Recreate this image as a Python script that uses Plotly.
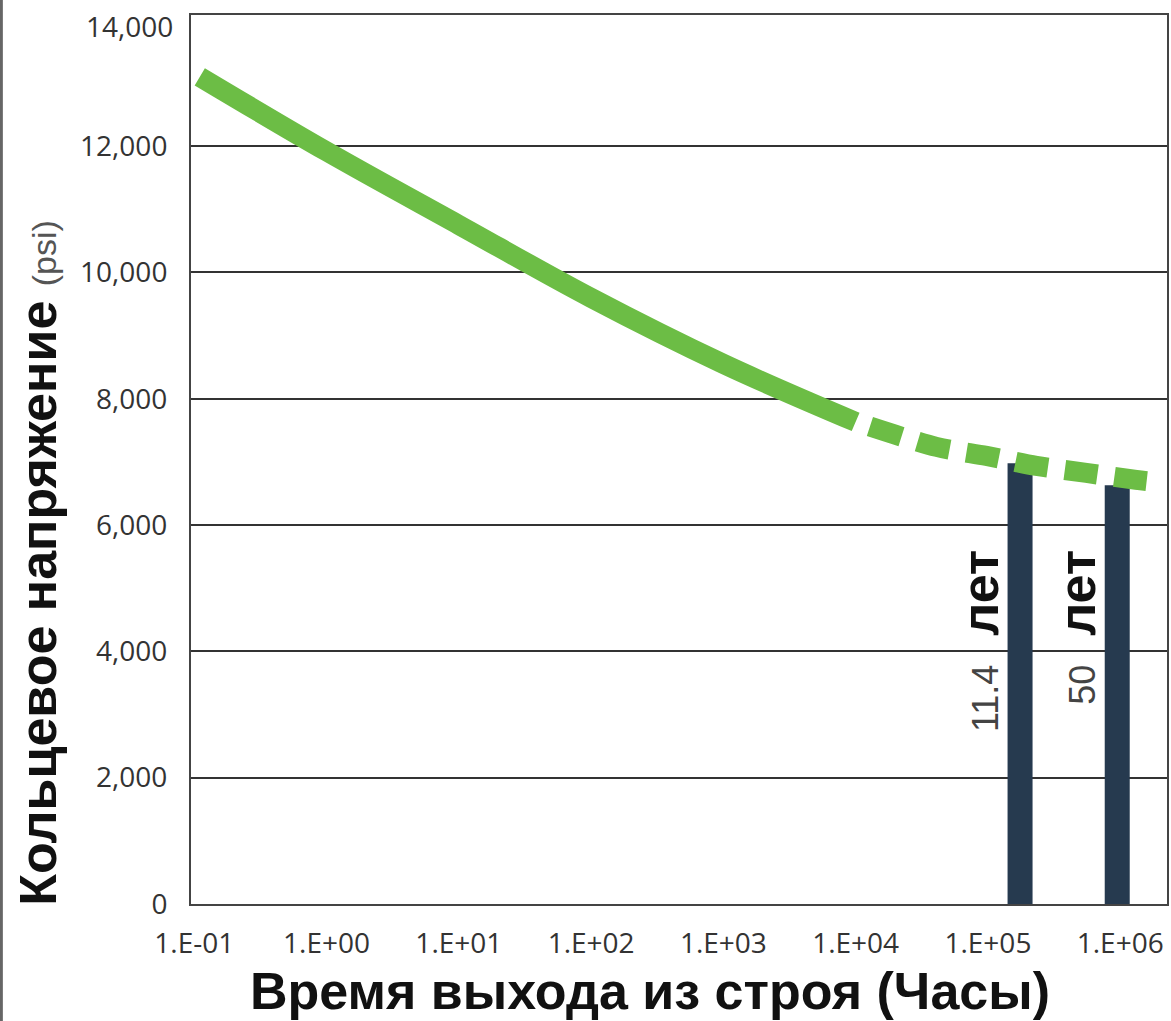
import math
import plotly.graph_objects as go

# Hoop stress regression curve (hours -> psi)
solid_hours = [0.11, 1, 10, 100, 1000, 10000]
solid_psi = [13096, 11915, 10752, 9596, 8551, 7633]

# Extrapolated part of the curve
dashed_hours = [10000, 40840, 97500, 232300, 554600, 1321000, 1774000]
dashed_psi = [7633, 7237, 7094, 6936, 6825, 6714, 6683]

# Design-life markers
life_hours = [175000, 950000]
life_psi = [6979, 6630]
life_years = ["11.4", "50"]

x_ticks = [0.1, 1, 10, 100, 1000, 10000, 100000, 1000000]
x_ticklabels = ["1.E-01", "1.E+00", "1.E+01", "1.E+02", "1.E+03", "1.E+04", "1.E+05", "1.E+06"]
y_ticks = [0, 2000, 4000, 6000, 8000, 10000, 12000]
y_ticklabels = ["0", "2,000", "4,000", "6,000", "8,000", "10,000", "12,000"]
y_top_tick = 14000
y_top_label = "14,000"

GREEN = "#6cbd45"
NAVY = "#263a4f"
TICK_FONT = dict(family="Open Sans", size=28, color="#333")

fig = go.Figure()

for h, v in zip(life_hours, life_psi):
    fig.add_trace(go.Scatter(
        x=[h, h], y=[0, v], mode="lines",
        line=dict(color=NAVY, width=25),
        hoverinfo="skip", showlegend=False,
    ))

fig.add_trace(go.Scatter(
    x=solid_hours, y=solid_psi, mode="lines",
    line=dict(color=GREEN, width=20, shape="spline", smoothing=1.0),
    showlegend=False,
))
fig.add_trace(go.Scatter(
    x=dashed_hours, y=dashed_psi, mode="lines",
    line=dict(color=GREEN, width=20, shape="spline", smoothing=0.8,
              dash="0px,15px,33px,2px"),
    showlegend=False,
))

# rotated "N лет" labels beside each marker (log axis -> annotation x in log10)
for h, yrs in zip(life_hours, life_years):
    fig.add_annotation(
        x=math.log10(h), y=5637, xref="x", yref="y",
        xanchor="center", yanchor="top",
        text=(f"<span style='font-family:Liberation Sans;font-size:36px;color:#444'>{yrs}</span>"
              f"  <b>лет</b>"),
        textangle=-90, showarrow=False, xshift=-40,
        font=dict(family="Liberation Sans", size=52, color="#111"),
    )

fig.update_xaxes(
    type="log", range=[-1.025, 6.354],
    tickvals=x_ticks, ticktext=x_ticklabels,
    showgrid=False, zeroline=False,
    showline=True, linecolor="#444", linewidth=2, mirror=True,
    ticks="", ticklabelstandoff=13,
    tickfont=TICK_FONT,
)
fig.update_yaxes(
    range=[0, 14075],
    tickvals=y_ticks, ticktext=y_ticklabels,
    showgrid=True, gridcolor="#333", gridwidth=1.5, zeroline=False,
    showline=True, linecolor="#444", linewidth=2, mirror=True,
    ticks="", ticklabelstandoff=16,
    tickfont=TICK_FONT,
)

# top tick label sits just under the frame line
fig.add_annotation(
    x=0, y=y_top_tick, xref="paper", yref="y",
    xanchor="right", yanchor="middle", showarrow=False,
    xshift=-16, yshift=-6, text=y_top_label, font=TICK_FONT,
)

fig.add_annotation(
    x=0.47, y=-0.098, xref="paper", yref="paper",
    xanchor="center", yanchor="middle", showarrow=False,
    text="<b>Время выхода из строя (Часы)</b>",
    font=dict(family="Liberation Sans", size=52, color="#111"),
)
fig.add_annotation(
    x=-0.157, y=0.3836, xref="paper", yref="paper",
    xanchor="center", yanchor="middle", showarrow=False, textangle=-90,
    text=("<b>Кольцевое напряжение</b> "
          "<span style='font-size:34px;color:#555'>(psi)</span>"),
    font=dict(family="Liberation Sans", size=52, color="#111"),
)

fig.add_shape(
    type="line", xref="paper", yref="paper",
    x0=-0.1943, x1=-0.1943, y0=-0.14, y1=1.03,
    line=dict(color="#666", width=3),
)

fig.update_layout(
    width=1171, height=1021,
    margin=dict(l=191, r=2, t=15, b=117),
    paper_bgcolor="white", plot_bgcolor="white",
    showlegend=False,
)

fig.write_html("out.html")
